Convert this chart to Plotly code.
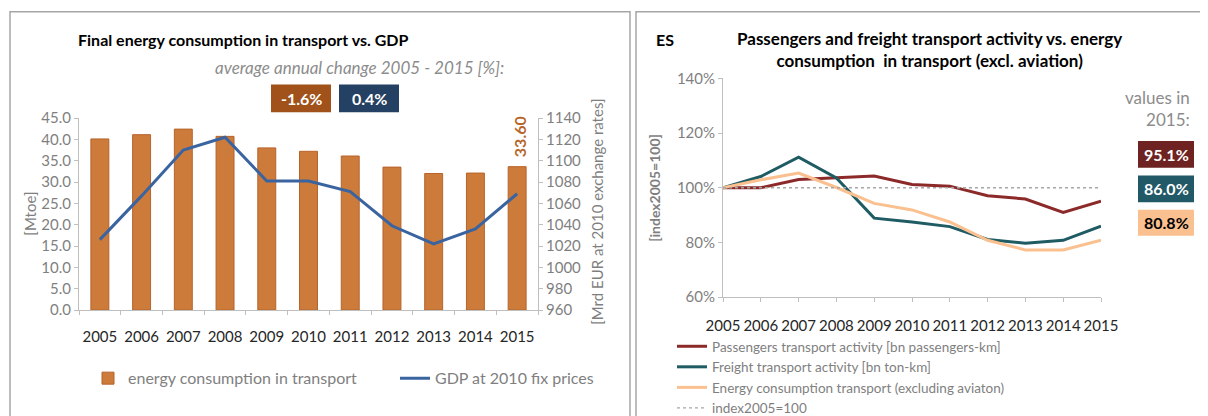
import plotly.graph_objects as go

W, H = 1208, 416

# painel esquerdo: consumo de energia no transporte vs. PIB
anos = ['2005', '2006', '2007', '2008', '2009', '2010', '2011', '2012', '2013', '2014', '2015']
energia_transporte = [40.1, 41.1, 42.4, 40.7, 38.0, 37.2, 36.1, 33.5, 32.0, 32.1, 33.6]
pib = [1026, 1067, 1110, 1122, 1081, 1081, 1071, 1039, 1022, 1036, 1069]
variacao_media = ['-1.6%', '0.4%']

# painel direito: índices 2005=100
anos_idx = [2005, 2006, 2007, 2008, 2009, 2010, 2011, 2012, 2013, 2014, 2015]
passageiros = [100.0, 100.0, 103.0, 103.6, 104.3, 101.2, 100.6, 97.1, 95.9, 91.0, 95.1]
carga = [100.0, 104.1, 111.2, 103.6, 88.9, 87.5, 85.8, 81.1, 79.7, 80.8, 86.0]
energia_sem_aviacao = [100.0, 102.9, 105.4, 100.1, 94.3, 91.9, 87.5, 80.8, 77.3, 77.3, 80.8]
referencia = [100] * len(anos_idx)
valores_2015 = ['95.1%', '86.0%', '80.8%']

FONTE = 'Lato, Open Sans, sans-serif'
CINZA = '#7f7f7f'
ESCURO = '#262626'
EIXO = '#bfbfbf'


def px(x):
    return x / W


def py(y):
    return 1 - y / H


fig = go.Figure()

fig.add_trace(go.Bar(
    x=anos, y=energia_transporte, name='energy consumption in transport',
    marker=dict(color='#cd7b3a', line=dict(color='#b7632a', width=1)),
    width=0.43, xaxis='x', yaxis='y', legend='legend',
))
fig.add_trace(go.Scatter(
    x=anos, y=pib, name='GDP at 2010 fix prices', mode='lines',
    line=dict(color='#3a64a0', width=3), xaxis='x', yaxis='y2', legend='legend',
))

cores = ['#8c2a2a', '#1f5b63', '#fac08f']
nomes = ['Passengers transport activity [bn passengers-km]',
         'Freight transport activity [bn ton-km]',
         'Energy consumption transport (excluding aviaton)']
for serie, cor, nome in zip([passageiros, carga, energia_sem_aviacao], cores, nomes):
    fig.add_trace(go.Scatter(
        x=anos_idx, y=serie, name=nome, mode='lines',
        line=dict(color=cor, width=3), xaxis='x3', yaxis='y3', legend='legend2',
    ))
fig.add_trace(go.Scatter(
    x=anos_idx, y=referencia, name='index2005=100', mode='lines',
    line=dict(color='#a6a6a6', width=1.3, dash='dot'), xaxis='x3', yaxis='y3',
    legend='legend2',
))

eixo_base = dict(showgrid=False, zeroline=False, showline=True, linecolor=EIXO,
                 linewidth=1, ticks='outside', tickcolor=EIXO, ticklen=4,
                 automargin=False)

fig.update_layout(
    width=W, height=H, margin=dict(l=0, r=0, t=0, b=0),
    paper_bgcolor='white', plot_bgcolor='white',
    font=dict(family=FONTE, size=14, color=CINZA),
    xaxis=dict(**eixo_base, type='category', tickson='boundaries', tickangle=0,
               domain=[px(71), px(530)], anchor='y', ticklabelstandoff=13,
               tickfont=dict(color=ESCURO, size=15)),
    yaxis=dict(**eixo_base, domain=[py(315.7), py(115)], range=[0, 45], dtick=5,
               tickformat='.1f', anchor='x', tickfont=dict(color=CINZA, size=15)),
    yaxis2=dict(**eixo_base, overlaying='y', side='right', anchor='x',
                range=[960, 1140], dtick=20, tickfont=dict(color=CINZA, size=15)),
    xaxis3=dict(**eixo_base, domain=[px(715), px(1093)], anchor='y3',
                range=[2005, 2015], tickvals=anos_idx, tickangle=0,
                ticklabelstandoff=11, tickfont=dict(color=ESCURO, size=15)),
    yaxis3=dict(**eixo_base, domain=[py(302.3), py(73.5)], anchor='x3',
                range=[60, 140], dtick=20, ticksuffix='%',
                tickfont=dict(color=CINZA, size=15)),
    legend=dict(orientation='h', x=px(80), y=py(387), yanchor='middle',
                xanchor='left', font=dict(size=16, color=CINZA),
                itemwidth=30, entrywidth=262, entrywidthmode='pixels',
                bgcolor='rgba(0,0,0,0)'),
    legend2=dict(orientation='v', x=px(664), y=py(338), yanchor='top',
                 xanchor='left', font=dict(size=13.5, color=CINZA),
                 itemwidth=30, tracegroupgap=0, bgcolor='rgba(0,0,0,0)'),
)

# molduras dos dois painéis
fig.add_shape(type='rect', xref='paper', yref='paper', x0=px(2), x1=px(622),
              y0=py(430), y1=py(4), line=dict(color='#a6a6a6', width=1.5))
fig.add_shape(type='rect', xref='paper', yref='paper', x0=px(628), x1=px(1215),
              y0=py(430), y1=py(4), line=dict(color='#a6a6a6', width=1.5))

anotacoes = [
    dict(text='<b>Final energy consumption in transport vs. GDP</b>', x=px(68), y=py(33),
         xanchor='left', font=dict(size=16, color='#000000')),
    dict(text='<i>average annual change 2005 - 2015 [%]:</i>', x=px(498), y=py(62),
         xanchor='right', font=dict(size=17, color='#8c8c8c')),
    dict(text='[Mtoe]', x=px(22), y=py(215), textangle=-90, font=dict(size=15, color=CINZA)),
    dict(text='[Mrd EUR at 2010 exchange rates]', x=px(589), y=py(213), textangle=-90,
         font=dict(size=15, color=CINZA)),
    dict(text='<b>33.60</b>', x=px(511), y=py(135), textangle=-90,
         font=dict(size=16, color='#b8652a')),
    dict(text='<b>ES</b>', x=px(646), y=py(33), xanchor='left',
         font=dict(size=16, color='#000000')),
    dict(text='<b>Passengers and freight transport activity vs. energy<br>'
              'consumption  in transport (excl. aviation)</b>',
         x=px(921), y=py(43), font=dict(size=17, color='#000000')),
    dict(text='<b>[index2005=100]</b>', x=px(647), y=py(188), textangle=-90,
         font=dict(size=14, color=CINZA)),
    dict(text='values in<br>2015:', x=px(1184), y=py(105), xanchor='right', align='right',
         font=dict(size=17, color='#8c8c8c')),
]

# caixas com a variação média anual
caixas_esq = [(263, 323, '#a0521a'), (331, 391, '#244062')]
for (x0, x1, cor), texto in zip(caixas_esq, variacao_media):
    fig.add_shape(type='rect', xref='paper', yref='paper', x0=px(x0), x1=px(x1),
                  y0=py(109), y1=py(80), fillcolor=cor, line=dict(width=0))
    anotacoes.append(dict(text=f'<b>{texto}</b>', x=px((x0 + x1) / 2), y=py(95),
                          font=dict(size=16, color='white')))

# caixas com os valores de 2015
caixas_dir = [(139, 167, '#6e2222', 'white'), (175, 203, '#215967', 'white'),
              (211, 238, '#fac090', '#000000')]
for (y0, y1, cor, cor_txt), texto in zip(caixas_dir, valores_2015):
    fig.add_shape(type='rect', xref='paper', yref='paper', x0=px(1130), x1=px(1186),
                  y0=py(y1), y1=py(y0), fillcolor=cor, line=dict(width=0))
    anotacoes.append(dict(text=f'<b>{texto}</b>', x=px(1158), y=py((y0 + y1) / 2),
                          font=dict(size=16, color=cor_txt)))

for a in anotacoes:
    a.setdefault('xref', 'paper')
    a.setdefault('yref', 'paper')
    a.setdefault('showarrow', False)
    a.setdefault('xanchor', 'center')
    a.setdefault('yanchor', 'middle')
    fig.add_annotation(**a)

fig.write_html('out.html')
